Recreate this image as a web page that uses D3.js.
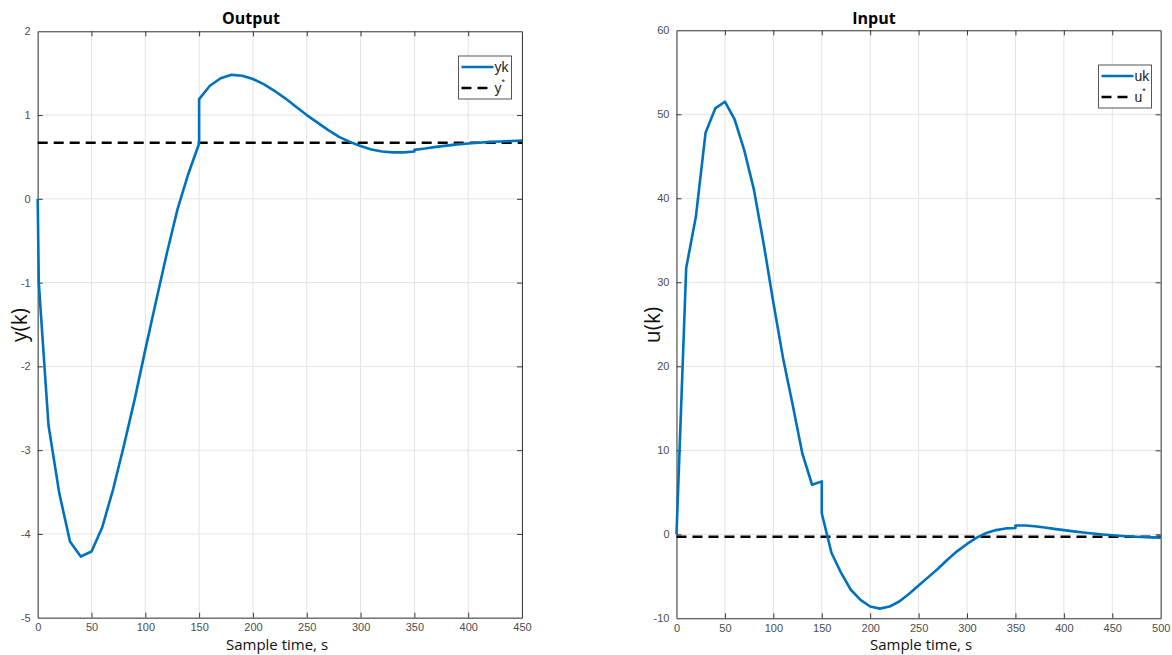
<!DOCTYPE html>
<html>
<head>
<meta charset="utf-8">
<script src="https://cdn.jsdelivr.net/npm/d3@7"></script>
<style>
  body { margin: 0; background: #fff; }
  .tick text { font-family: "Liberation Sans", Arial, sans-serif; font-size: 11px; fill: #4d4d4d; }
</style>
</head>
<body>
<div class="chart"></div>
<script>
// sample times and values
var yTime = [0, 1, 10, 20, 30, 40, 50, 60, 70, 80, 90, 100, 110, 120, 130, 140, 150, 150, 160, 170, 180, 190, 200,
             210, 220, 230, 240, 250, 260, 270, 280, 290, 300, 310, 320, 330, 340, 350, 350, 360, 370, 380, 390,
             400, 410, 420, 430, 440, 450];
var yk = [0, -1.0, -2.70, -3.51, -4.09, -4.27, -4.21, -3.92, -3.47, -2.95, -2.40, -1.80, -1.22, -0.65, -0.12, 0.30,
          0.66, 1.19, 1.35, 1.44, 1.48, 1.47, 1.43, 1.37, 1.29, 1.20, 1.10, 1.00, 0.91, 0.82, 0.74, 0.68, 0.63,
          0.59, 0.565, 0.555, 0.555, 0.565, 0.585, 0.60, 0.62, 0.635, 0.65, 0.66, 0.67, 0.68, 0.685, 0.69, 0.695];
var yStar = 0.67;

var uTime = [0, 10, 20, 30, 40, 50, 60, 70, 80, 90, 100, 110, 120, 130, 140, 150, 150, 160, 170, 180, 190, 200,
             210, 220, 230, 240, 250, 260, 270, 280, 290, 300, 310, 320, 330, 340, 350, 350, 360, 370, 380, 390,
             400, 410, 420, 430, 440, 450, 460, 470, 480, 490, 500];
var uk = [0, 31.7, 37.8, 47.8, 50.7, 51.5, 49.4, 45.7, 41.0, 34.6, 27.6, 21.0, 15.4, 9.6, 5.9, 6.3, 2.5, -2.2,
          -4.6, -6.6, -7.8, -8.6, -8.85, -8.6, -8.0, -7.1, -6.1, -5.1, -4.1, -3.0, -2.0, -1.15, -0.4, 0.15, 0.5,
          0.7, 0.75, 1.05, 1.05, 0.95, 0.8, 0.65, 0.5, 0.35, 0.22, 0.1, -0.02, -0.12, -0.2, -0.27, -0.32, -0.37, -0.4];
var uStar = -0.3;

var yTicksX = d3.range(0, 451, 50);
var yTicksY = [-5, -4, -3, -2, -1, 0, 1, 2];
var uTicksX = d3.range(0, 501, 50);
var uTicksY = [-10, 0, 10, 20, 30, 40, 50, 60];

var width = 1172, height = 655;
var blue = "#0072bd";

var svg = d3.select(".chart").append("svg")
    .attr("width", width)
    .attr("height", height);

function panel(opt) {
    var x = d3.scaleLinear().domain(opt.xDomain).range([opt.left, opt.right]);
    var y = d3.scaleLinear().domain(opt.yDomain).range([opt.bottom, opt.top]);
    var g = svg.append("g");

    // grid
    g.selectAll(".gx").data(opt.xTicks).enter().append("line")
        .attr("x1", d => x(d)).attr("x2", d => x(d))
        .attr("y1", opt.top).attr("y2", opt.bottom)
        .attr("stroke", "#e3e3e3").attr("stroke-width", 1);
    g.selectAll(".gy").data(opt.yTicks).enter().append("line")
        .attr("x1", opt.left).attr("x2", opt.right)
        .attr("y1", d => y(d)).attr("y2", d => y(d))
        .attr("stroke", "#e3e3e3").attr("stroke-width", 1);

    // axes, ticks pointing inward like matlab
    var plain = d => String(d);   // keep hyphen minus like the original
    var ax = [
        [d3.axisBottom(x).tickValues(opt.xTicks), opt.bottom, 0, true],
        [d3.axisTop(x).tickValues(opt.xTicks), opt.top, 0, false],
        [d3.axisLeft(y).tickValues(opt.yTicks), opt.left, 1, true],
        [d3.axisRight(y).tickValues(opt.yTicks), opt.right, 1, false]
    ];
    ax.forEach(function(a) {
        var axis = a[0].tickSizeInner(-5).tickSizeOuter(0).tickPadding(a[2] ? 6 : 6)
            .tickFormat(a[3] ? plain : "");
        var t = g.append("g")
            .attr("transform", a[2] ? "translate(" + a[1] + ",0)" : "translate(0," + a[1] + ")")
            .call(axis);
        t.select(".domain").attr("stroke", "#3a3a3a");
        t.selectAll(".tick line").attr("stroke", "#3a3a3a");
        if (a[2] && a[3]) t.selectAll(".tick text").attr("dx", "-1");
        t.selectAll(".tick").filter(d => (a[2] ? d == opt.yDomain[0] || d == opt.yDomain[1] : d == opt.xDomain[0] || d == opt.xDomain[1]))
            .select("line").remove();
    });

    // reference level
    g.append("line")
        .attr("x1", x(opt.xDomain[0])).attr("x2", x(opt.xDomain[1]))
        .attr("y1", y(opt.star)).attr("y2", y(opt.star))
        .attr("stroke", "#000").attr("stroke-width", 2.6)
        .attr("stroke-dasharray", "10,6");

    var line = d3.line().curve(d3.curveMonotoneX).x(d => x(d[0])).y(d => y(d[1]));
    var lin = d3.line().x(d => x(d[0])).y(d => y(d[1]));
    var pts = d3.zip(opt.t, opt.v);
    g.append("path")
        .datum(pts)
        .attr("d", opt.smooth ? line : lin)
        .attr("fill", "none")
        .attr("stroke", blue)
        .attr("stroke-width", 2.6)
        .attr("stroke-linejoin", "round");

    // titles and labels
    g.append("text")
        .attr("x", opt.titleX).attr("y", 24)
        .attr("text-anchor", "middle")
        .style("font-family", "'Open Sans', sans-serif")
        .style("font-weight", "bold").style("font-size", "16px")
        .text(opt.title);
    g.append("text")
        .attr("x", opt.xLabelX).attr("y", 650)
        .attr("text-anchor", "middle")
        .style("font-family", "'Open Sans', sans-serif")
        .style("font-size", "15px").attr("fill", "#111")
        .text("Sample time, s");
    g.append("text")
        .attr("transform", "translate(" + opt.yLabelX + ",325) rotate(-90)")
        .attr("text-anchor", "middle")
        .style("font-family", "'Open Sans', sans-serif")
        .style("font-size", "21px").attr("fill", "#111")
        .text(opt.yLabel);

    // legend
    var lg = g.append("g").attr("transform", "translate(" + opt.legX + "," + opt.legY + ")");
    lg.append("rect").attr("width", 53).attr("height", 43)
        .attr("fill", "#fff").attr("stroke", "#555").attr("stroke-width", 1);
    lg.append("line").attr("x1", 3).attr("x2", 35).attr("y1", 11).attr("y2", 11)
        .attr("stroke", blue).attr("stroke-width", 2.6);
    lg.append("line").attr("x1", 3).attr("x2", 35).attr("y1", 32).attr("y2", 32)
        .attr("stroke", "#000").attr("stroke-width", 2.6).attr("stroke-dasharray", "10,6");
    lg.append("text").attr("x", 36).attr("y", 16)
        .style("font-family", "'Liberation Sans', Arial, sans-serif").style("font-size", "14px")
        .attr("fill", "#222").text(opt.legName);
    var st = lg.append("text").attr("x", 36).attr("y", 37)
        .style("font-family", "'Liberation Sans', Arial, sans-serif").style("font-size", "14px")
        .attr("fill", "#222");
    st.append("tspan").text(opt.legStar);
    st.append("tspan").attr("dy", "-8").style("font-size", "9px").text("*");
}

panel({
    left: 37.7, right: 522, top: 31.3, bottom: 617.7,
    xDomain: [0, 450], yDomain: [-5, 2], xTicks: yTicksX, yTicks: yTicksY,
    t: yTime, v: yk, star: yStar, smooth: false,
    title: "Output", titleX: 251, xLabelX: 277, yLabelX: 27, yLabel: "y(k)",
    legX: 458.5, legY: 56, legName: "yk", legStar: "y"
});

panel({
    left: 676.5, right: 1160.7, top: 30.3, bottom: 618.3,
    xDomain: [0, 500], yDomain: [-10, 60], xTicks: uTicksX, yTicks: uTicksY,
    t: uTime, v: uk, star: uStar, smooth: false,
    title: "Input", titleX: 874, xLabelX: 921, yLabelX: 660, yLabel: "u(k)",
    legX: 1098.5, legY: 65, legName: "uk", legStar: "u"
});
</script>
</body>
</html>
